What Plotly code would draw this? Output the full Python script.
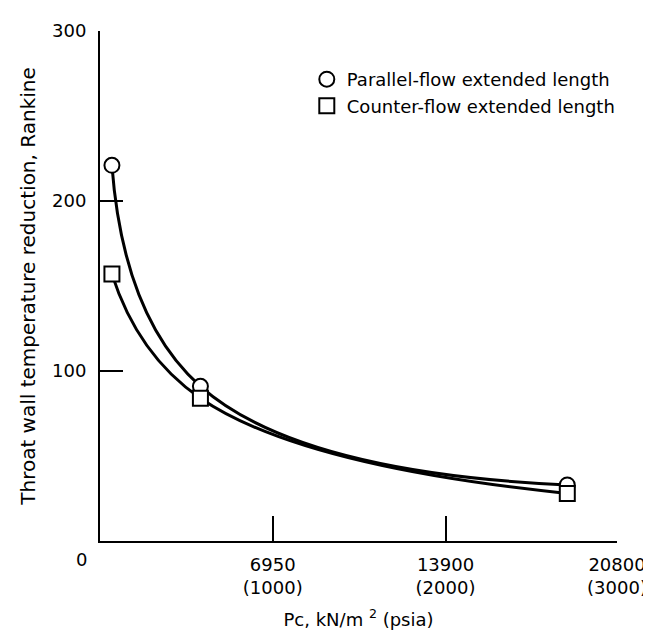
import plotly.graph_objects as go

# Data
pc_kn = [480, 4040, 18800]              # chamber pressure, kN/m^2
parallel_flow = [221, 91, 33]           # Rankine
counter_flow = [157, 84, 28]            # Rankine

x_tick_kn = [6950, 13900, 20800]
x_tick_psia = [1000, 2000, 3000]
y_ticks = [100, 200, 300]

FONT = "DejaVu Sans, Liberation Sans, Arial, sans-serif"
BLACK = "#000000"

fig = go.Figure()

series = [
    ("Parallel-flow extended length", parallel_flow, "circle", "legend"),
    ("Counter-flow extended length", counter_flow, "square", "legend2"),
]

# curves (drawn first, markers on top)
for name, vals, sym, lg in series:
    fig.add_trace(go.Scatter(
        x=pc_kn, y=vals, mode="lines",
        line=dict(color=BLACK, width=3, shape="spline", smoothing=1.3),
        showlegend=False, hoverinfo="skip"))

for name, vals, sym, lg in series:
    fig.add_trace(go.Scatter(
        x=pc_kn, y=vals, mode="markers", name=name, legend=lg,
        marker=dict(symbol=sym, size=15, color="white",
                    line=dict(color=BLACK, width=2))))

tick_text = [f"{k}<br>({p})" for k, p in zip(x_tick_kn, x_tick_psia)]

legend_common = dict(x=0.40, xanchor="left", yanchor="middle",
                     bgcolor="rgba(0,0,0,0)", font=dict(size=18),
                     itemsizing="trace")

fig.update_layout(
    width=651, height=633,
    margin=dict(l=92, r=37, t=18, b=100),
    paper_bgcolor="white", plot_bgcolor="white",
    font=dict(family=FONT, size=18, color=BLACK),
    showlegend=True,
    legend=dict(y=0.905, **legend_common),
    legend2=dict(y=0.853, **legend_common),
    xaxis=dict(
        range=[0, 20800], tickvals=x_tick_kn, ticktext=tick_text,
        ticks="inside", ticklen=25, tickwidth=2, tickcolor=BLACK,
        showline=True, linewidth=2, linecolor=BLACK,
        showgrid=False, zeroline=False, ticklabelstandoff=6,
        title=dict(text="Pc, kN/m <sup>2</sup> (psia)", standoff=16,
                   font=dict(size=18)),
    ),
    yaxis=dict(
        range=[0, 300], tickvals=y_ticks,
        ticks="inside", ticklen=23, tickwidth=2, tickcolor=BLACK,
        showline=True, linewidth=2, linecolor=BLACK,
        showgrid=False, zeroline=False, ticklabelstandoff=8,
        title=dict(text="Throat wall temperature reduction, Rankine",
                   standoff=11, font=dict(size=20)),
    ),
)

# shared origin label "0"
fig.add_annotation(text="0", xref="paper", yref="paper", x=-0.036, y=0,
                   yshift=-18, showarrow=False, font=dict(size=18),
                   xanchor="center", yanchor="middle")

fig.write_html("out.html")
